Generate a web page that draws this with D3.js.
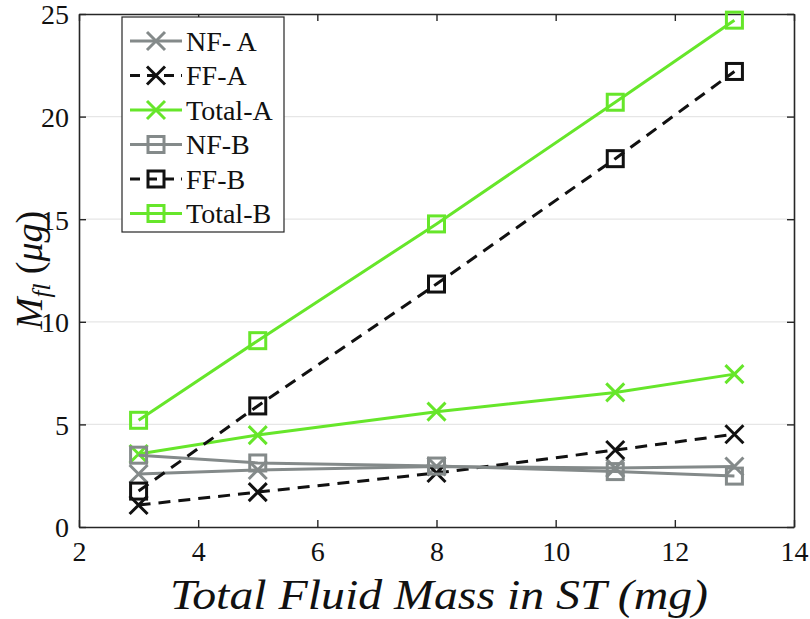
<!DOCTYPE html>
<html><head><meta charset="utf-8">
<script src="https://cdn.jsdelivr.net/npm/d3@7"></script>
<style>
svg text, svg tspan { font-family: "Liberation Serif", serif !important; }
</style>
</head><body style="margin:0"><svg id="c" width="810" height="619"></svg>
<script>
const xs = [3, 5, 8, 11, 13];
const nfA = [2.58, 2.78, 2.95, 2.87, 2.95];
const ffA = [1.07, 1.70, 2.63, 3.75, 4.52];
const totalA = [3.56, 4.48, 5.62, 6.56, 7.45];
const nfB = [3.50, 3.12, 2.97, 2.70, 2.48];
const ffB = [1.75, 5.90, 11.84, 17.95, 22.2];
const totalB = [5.20, 9.08, 14.77, 20.7, 24.7];
const xTicks = [2, 4, 6, 8, 10, 12, 14];
const yTicks = [0, 5, 10, 15, 20, 25];
const seriesNames = ["NF- A", "FF-A", "Total-A", "NF-B", "FF-B", "Total-B"];

const FONT = "Liberation Serif";
const GRAY = "#848a8a", BLACK = "#111111", GREEN = "#66e62a";
const series = [
  {name: seriesNames[0], vals: nfA, color: GRAY, dash: null, marker: "x"},
  {name: seriesNames[1], vals: ffA, color: BLACK, dash: "12,8", marker: "x"},
  {name: seriesNames[2], vals: totalA, color: GREEN, dash: null, marker: "x"},
  {name: seriesNames[3], vals: nfB, color: GRAY, dash: null, marker: "s"},
  {name: seriesNames[4], vals: ffB, color: BLACK, dash: "12,8", marker: "s"},
  {name: seriesNames[5], vals: totalB, color: GREEN, dash: null, marker: "s"}
];

const svg = d3.select("#c");
const L = 79, R = 794, T = 14, B = 527;
const x = d3.scaleLinear().domain([2, 14]).range([L, R]);
const y = d3.scaleLinear().domain([0, 25]).range([B, T]);
const AX = "#262626";

svg.append("g").selectAll("line").data(yTicks.slice(1, -1)).join("line")
  .attr("x1", L).attr("x2", R).attr("y1", d => y(d)).attr("y2", d => y(d))
  .attr("stroke", "#e6e6e6").attr("stroke-width", 1.2);

const fs = 28;
const gx = svg.append("g").attr("transform", `translate(0,${B})`)
  .call(d3.axisBottom(x).tickValues(xTicks).tickSizeInner(-7).tickSizeOuter(0).tickPadding(14));
const gxt = svg.append("g").attr("transform", `translate(0,${T})`)
  .call(d3.axisTop(x).tickValues(xTicks).tickSizeInner(-7).tickSizeOuter(0).tickFormat(""));
const gy = svg.append("g").attr("transform", `translate(${L},0)`)
  .call(d3.axisLeft(y).tickValues(yTicks).tickSizeInner(-7).tickSizeOuter(0).tickPadding(10));
const gyr = svg.append("g").attr("transform", `translate(${R},0)`)
  .call(d3.axisRight(y).tickValues(yTicks).tickSizeInner(-7).tickSizeOuter(0).tickFormat(""));
[gx, gxt, gy, gyr].forEach(g => {
  g.attr("font-family", FONT).attr("font-size", fs);
  g.selectAll("path").attr("stroke", AX).attr("stroke-width", 1.6);
  g.selectAll("line").attr("stroke", AX).attr("stroke-width", 1.4);
  g.selectAll("text").attr("fill", "#111").attr("font-family", FONT).attr("font-size", fs);
});
gx.selectAll("text").attr("dy", "0.71em");
gy.selectAll("text").attr("dy", "0.35em");

const line = d3.line().x((d, i) => x(xs[i])).y(d => y(d));
const plot = svg.append("g");
function drawMarker(g, type, cx, cy, color) {
  if (type === "x") {
    const s = 9;
    g.append("path").attr("d", `M${cx - s},${cy - s}L${cx + s},${cy + s}M${cx - s},${cy + s}L${cx + s},${cy - s}`)
      .attr("stroke", color).attr("stroke-width", 3).attr("fill", "none");
  } else {
    const s = 8;
    g.append("rect").attr("x", cx - s).attr("y", cy - s).attr("width", 2 * s).attr("height", 2 * s)
      .attr("stroke", color).attr("stroke-width", 3).attr("fill", "none");
  }
}
series.forEach(s => {
  plot.append("path").datum(s.vals).attr("d", line).attr("fill", "none")
    .attr("stroke", s.color).attr("stroke-width", 3).attr("stroke-dasharray", s.dash);
  s.vals.forEach((v, i) => drawMarker(plot, s.marker, x(xs[i]), y(v), s.color));
});

const lg = svg.append("g");
lg.append("rect").attr("x", 122).attr("y", 17).attr("width", 162).attr("height", 215)
  .attr("fill", "#fff").attr("stroke", AX).attr("stroke-width", 1.2);
series.forEach((s, i) => {
  const cy = 41 + i * 34.5;
  lg.append("line").attr("x1", 130).attr("x2", 182).attr("y1", cy).attr("y2", cy)
    .attr("stroke", s.color).attr("stroke-width", 3).attr("stroke-dasharray", s.dash ? "10,7" : null);
  drawMarker(lg, s.marker, 156, cy, s.color);
  lg.append("text").attr("x", 186).attr("y", cy).attr("dy", "0.35em")
    .attr("font-family", FONT).attr("font-size", 28).attr("fill", "#111").text(s.name);
});

svg.append("text").attr("x", 170).attr("y", 609)
  .attr("textLength", 538).attr("lengthAdjust", "spacingAndGlyphs")
  .attr("font-family", FONT).attr("font-size", 42).attr("font-style", "italic").attr("fill", "#111")
  .text("Total Fluid Mass in ST (mg)");

const yl = svg.append("text").attr("transform", "translate(42,270) rotate(-90)").attr("text-anchor", "middle")
  .attr("font-family", FONT).attr("font-size", 38).attr("fill", "#111");
yl.append("tspan").attr("font-style", "italic").text("M");
yl.append("tspan").attr("font-style", "italic").attr("font-size", 25).attr("dy", 8).text("fl");
yl.append("tspan").attr("dy", -8).text(" (");
yl.append("tspan").attr("font-style", "italic").text("\u03bcg");
yl.append("tspan").text(")");
</script></body></html>
